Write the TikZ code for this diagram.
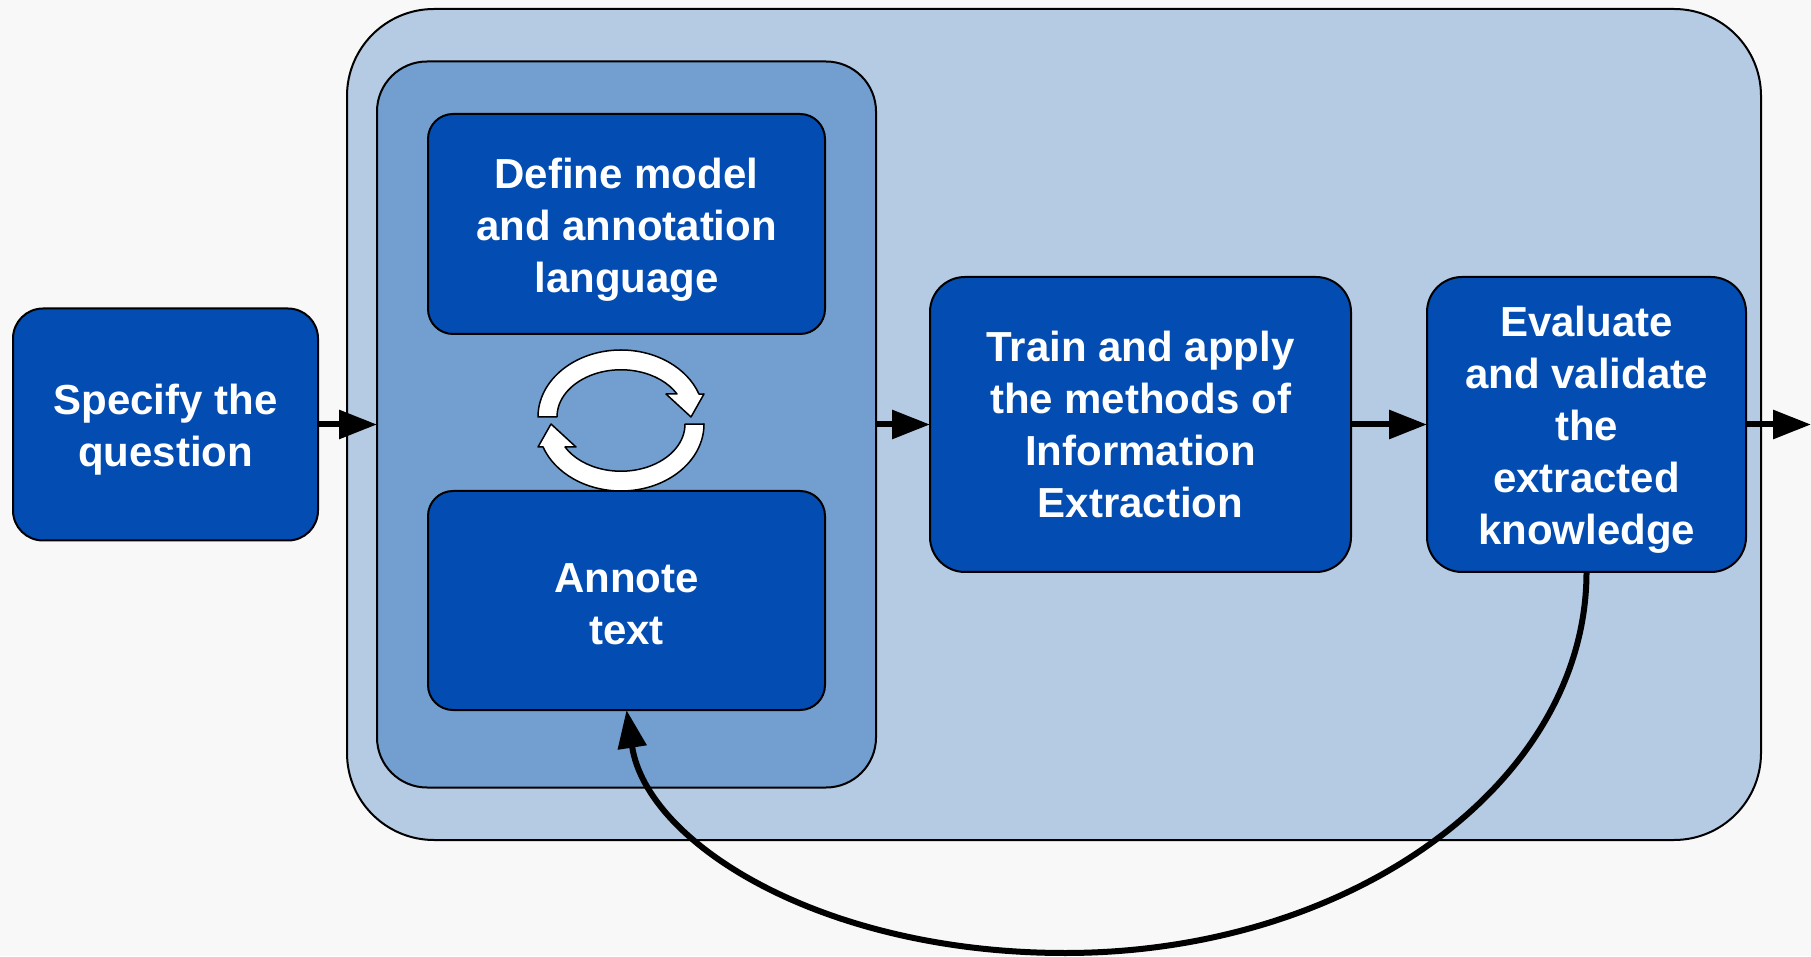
\documentclass[tikz,border=0pt]{standalone}
\usepackage{fontspec}
\setmainfont{Liberation Sans}
\usetikzlibrary{arrows.meta}
\definecolor{darkbox}{RGB}{3,76,178}
\definecolor{midbox}{RGB}{114,159,207}
\definecolor{outerbox}{RGB}{181,203,227}
\definecolor{bgcol}{RGB}{248,248,248}
\newcommand{\mytopstrut}[1]{\rule{0pt}{#1}}
\begin{document}
\begin{tikzpicture}[x=1pt,y=1pt,
  framebox/.style={draw=black, line width=2pt, inner sep=0pt, outer sep=0pt},
  bluebox/.style={framebox, fill=darkbox, text=white, rounded corners=25pt,
    font=\fontsize{42}{52}\selectfont\bfseries, align=center},
  flow/.style={line width=6pt, -{Triangle[length=38pt,width=28pt]}},
  cycarrow/.style={draw=black, fill=white, line width=1.5pt, line join=round}]
\fill[bgcol] (0,0) rectangle (1811,956);
\useasboundingbox (0,0) rectangle (1811,956);
\node[framebox, fill=outerbox, rounded corners=87pt, minimum width=1414pt, minimum height=831pt] (outer) at (1054,531.5) {};
\node[framebox, fill=midbox, rounded corners=50pt, minimum width=499pt, minimum height=726pt] (medium) at (626.5,531.5) {};
\node[bluebox, minimum width=397pt, minimum height=220pt] (define) at (626.5,732) {\mytopstrut{42pt}Define model\\and annotation\\language};
\node[bluebox, minimum width=397pt, minimum height=219pt] (annote) at (626.5,355.5) {\mytopstrut{36pt}Annote\\text};
\node[bluebox, rounded corners=30pt, minimum width=305pt, minimum height=232pt] (specify) at (165.5,531.5) {\mytopstrut{40pt}Specify the\\question};
\node[bluebox, rounded corners=35pt, minimum width=421pt, minimum height=295pt] (train) at (1140.5,531.5) {Train and apply\\the methods of\\Information\\Extraction};
\node[bluebox, rounded corners=35pt, minimum width=319pt, minimum height=295pt] (evaluate) at (1586.5,531.5) {\mytopstrut{41pt}Evaluate\\and validate\\the\\extracted\\knowledge};
% cycle icon
\path[cycarrow] (538,539) arc[start angle=180,end angle=20,x radius=83pt,y radius=67pt]
  -- (704,562) -- (691,539) -- (666,562) -- (677,562)
  arc[start angle=29,end angle=180,x radius=64pt,y radius=47pt] -- cycle;
\path[cycarrow] (704,532) arc[start angle=0,end angle=-160,x radius=83pt,y radius=67pt]
  -- (538,509) -- (551,532) -- (576,509) -- (565,509)
  arc[start angle=-151,end angle=0,x radius=64pt,y radius=47pt] -- cycle;
% connectors
\coordinate (exit) at (1811,531.5);
\draw[flow] (specify.east) -- (medium.west);
\draw[flow] (medium.east) -- (train.west);
\draw[flow] (train.east) -- (evaluate.west);
\draw[flow] (evaluate.east) -- (exit);
\draw[flow] (evaluate.south) .. controls (1586.5,174) and (1353,3) .. (1065,3)
  .. controls (823,3) and (647,112) .. (annote.south);
\end{tikzpicture}
\end{document}
